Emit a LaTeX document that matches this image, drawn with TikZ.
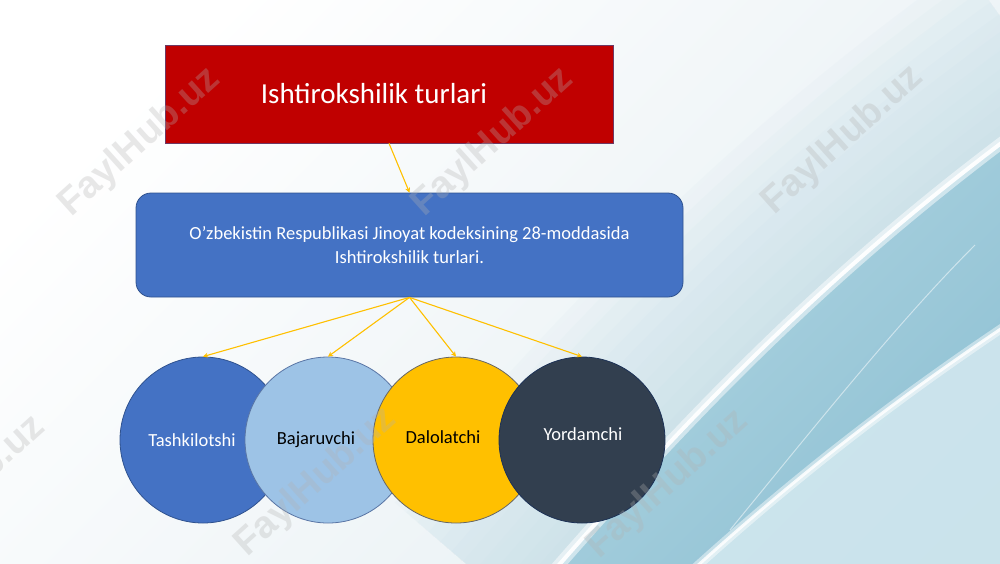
\documentclass[tikz,border=0pt]{standalone}
\usepackage{fontspec}
\setmainfont{Carlito}
\newfontfamily\wmfont{Liberation Sans}
\usetikzlibrary{arrows.meta,shapes.geometric}
\definecolor{titlered}{HTML}{C00000}
\definecolor{boxblue}{HTML}{4472C4}
\definecolor{boxedge}{HTML}{2F528F}
\definecolor{lightblue}{HTML}{9DC3E6}
\definecolor{gold}{HTML}{FFC000}
\definecolor{slate}{HTML}{323F4F}
\definecolor{bgR}{HTML}{E6EFF3}
\definecolor{glow}{HTML}{C4DEE8}
\definecolor{tealA}{HTML}{8CBFD2}
\definecolor{tealB}{HTML}{B3D7E3}
\definecolor{lowB}{HTML}{CCE4EC}
\tikzset{
  conn/.style={draw=gold, line width=1.1pt, -{Stealth[length=5pt,width=5pt]}},
  circ/.style={circle, minimum size=166pt, inner sep=0pt, line width=0.8pt},
  lbl/.style={font=\fontsize{18.5}{22}\selectfont},
  wm/.style={font=\wmfont\bfseries\fontsize{38}{38}\selectfont, text=gray!60, opacity=0.3, rotate=42},
}
\begin{document}
\begin{tikzpicture}[x=1pt,y=-1pt]
\useasboundingbox (0,0) rectangle (1000,563);
\begin{scope}
\clip (0,0) rectangle (1000,563);
% background
\shade[top color=white, bottom color=bgR, shading angle=45] (0,0) rectangle (1000,563);
% glow above ridge
\foreach \w in {30,60,...,330}
  \draw[glow, line width=\w pt, opacity=0.09]
    (520,610) .. controls (700,400) and (850,250) .. (1060,100);
% teal band
\shade[top color=tealB, bottom color=tealA, shading angle=45]
  (520,610) .. controls (700,400) and (850,250) .. (1060,100) -- (1060,290)
  .. controls (920,380) and (800,470) .. (660,600) -- cycle;
% lower light region
\shade[top color=lowB, bottom color=tealB!70, shading angle=45]
  (660,600) .. controls (800,470) and (920,380) .. (1060,290) -- (1060,620) -- (640,620) -- cycle;
% ridges
\draw[white, line width=12pt, opacity=0.5]
  (520,610) .. controls (700,400) and (850,250) .. (1060,100);
\draw[white, line width=4pt, opacity=0.95]
  (520,610) .. controls (700,400) and (850,250) .. (1060,100);
\draw[white, line width=9pt, opacity=0.45]
  (660,600) .. controls (800,470) and (920,380) .. (1060,290);
\draw[white, line width=3pt, opacity=0.85]
  (660,600) .. controls (800,470) and (920,380) .. (1060,290);
\draw[white, line width=1pt, opacity=0.5]
  (730,530) .. controls (820,420) and (900,320) .. (975,245);
\end{scope}
% title box
\node[draw=boxedge!70!red, line width=0.6pt, fill=titlered, minimum width=448pt, minimum height=98pt, inner sep=0pt]
  (title) at (389,94) {};
\node[text=white, font=\fontsize{29}{34}\selectfont] (titletext) at (374,94) {Ishtirokshilik turlari};
% blue box
\node[draw=boxedge, line width=0.8pt, fill=boxblue, rounded corners=15pt, minimum width=547pt, minimum height=104pt, inner sep=0pt, text=white, align=center, font=\fontsize{18.5}{24}\selectfont]
  (code) at (409.5,245) {O’zbekistin Respublikasi Jinoyat kodeksining 28-moddasida\\Ishtirokshilik turlari.};
% circles
\node[circ, draw=boxedge, fill=boxblue] (c1) at (203,440) {};
\node[lbl, text=white] (t1) at (192,440) {Tashkilotshi};
\node[circ, draw=boxedge!80, fill=lightblue] (c2) at (328,440) {};
\node[lbl, text=black] (t2) at (316,440) {Bajaruvchi};
\node[circ, draw=black!60, fill=gold] (c3) at (456,440) {};
\node[lbl, text=black] (t3) at (443,437) {Dalolatchi};
\node[circ, draw=boxedge!60!black, fill=slate] (c4) at (582,440) {};
\node[lbl, text=white] (t4) at (583,434) {Yordamchi};
% connectors
\draw[conn] (title.south) -- (code.north);
\draw[conn] (code.south) -- (c1.north);
\draw[conn] (code.south) -- (c2.north);
\draw[conn] (code.south) -- (c3.north);
\draw[conn] (code.south) -- (c4.north);
% watermarks
\node[wm] (w1) at (140,142) {FaylHub.uz};
\node[wm] (w2) at (493,142) {FaylHub.uz};
\node[wm] (w3) at (843,140) {FaylHub.uz};
\node[wm] (w4) at (-35,490) {FaylHub.uz};
\node[wm] (w5) at (316,482) {FaylHub.uz};
\node[wm] (w6) at (668,484) {FaylHub.uz};
\end{tikzpicture}
\end{document}
